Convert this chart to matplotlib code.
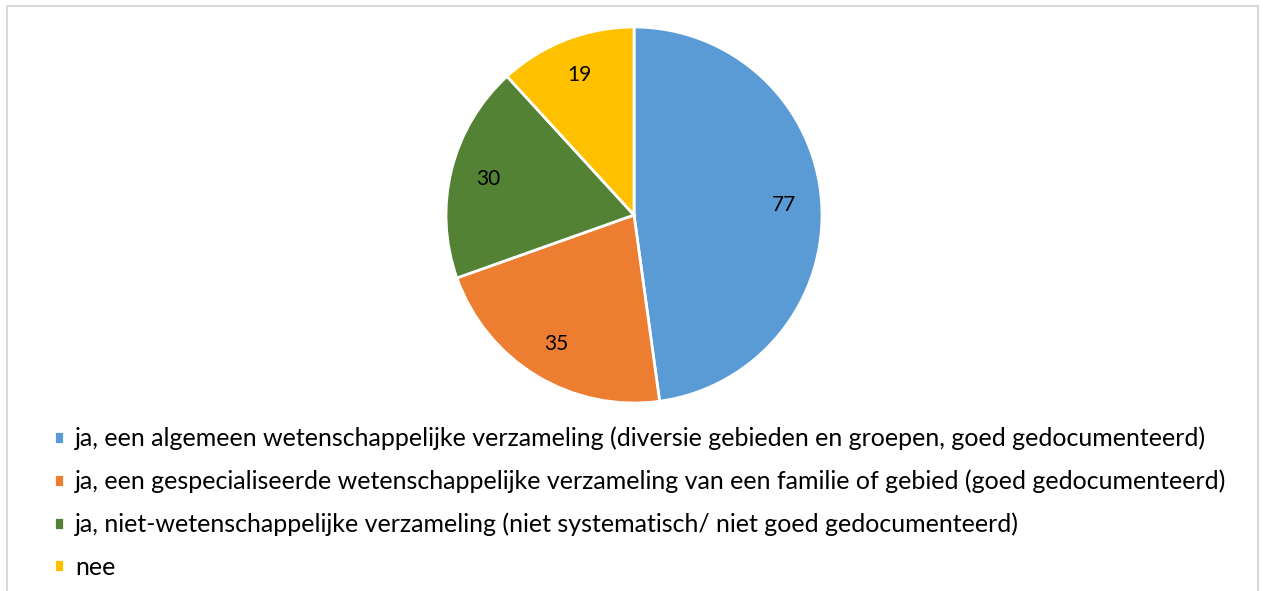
import matplotlib.pyplot as plt
from matplotlib.patches import Rectangle

labels = [
    'ja, een algemeen wetenschappelijke verzameling (diversie gebieden en groepen, goed gedocumenteerd)',
    'ja, een gespecialiseerde wetenschappelijke verzameling van een familie of gebied (goed gedocumenteerd)',
    'ja, niet-wetenschappelijke verzameling (niet systematisch/ niet goed gedocumenteerd)',
    'nee',
]
values = [77, 35, 30, 19]
colors = ['#5B9BD5', '#ED7D31', '#548235', '#FFC000']

plt.rcParams['font.family'] = ['Lato', 'DejaVu Sans']

W, H = 1263, 591
fig = plt.figure(figsize=(W / 100, H / 100), dpi=100)

# grey chart frame
fig.patches.append(Rectangle((7 / W, -0.1), (1258 - 7) / W, (H - 6) / H + 0.1,
                             transform=fig.transFigure, fill=False,
                             edgecolor='#D9D9D9', lw=1.5))

ax = fig.add_axes([446 / W, (H - 403) / H, 376 / W, 376 / H])
wedges, texts = ax.pie(values, colors=colors, startangle=90, counterclock=False,
                       wedgeprops=dict(edgecolor='white', linewidth=2),
                       labels=[str(v) for v in values], labeldistance=0.8,
                       textprops=dict(fontsize=15, color='black', ha='center', va='center'))
ax.set_xlim(-1, 1)
ax.set_ylim(-1, 1)
ax.set_aspect('equal')

fig.legend(wedges, labels, loc='upper left', bbox_to_anchor=(31 / W, 1 - 404 / H),
           frameon=False, fontsize=18, handlelength=0.42, handleheight=0.42,
           handletextpad=0.45, labelspacing=0.78)

fig.savefig('out.png', dpi=100)
